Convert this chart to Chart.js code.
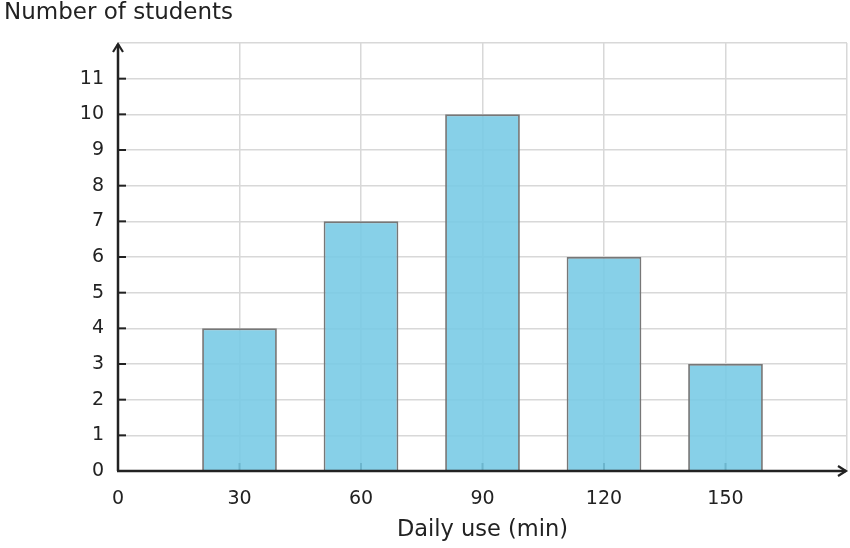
<!DOCTYPE html>
<html>
<head>
<meta charset="utf-8">
<script src="https://cdn.jsdelivr.net/npm/chart.js@4"></script>
<style>
  html, body { margin: 0; padding: 0; background: #fff; }
  #wrap { width: 850px; height: 548px; }
</style>
</head>
<body>
<div id="wrap"><canvas id="chart"></canvas></div>
<script>
const minutes = [30, 60, 90, 120, 150]
const students = [4, 7, 10, 6, 3]
const yTitle = "Number of students"
const xTitle = "Daily use (min)"

const ink = "#222222"
const font = "'DejaVu Sans', sans-serif"

// axis lines with arrow heads and inward tick marks, drawn under the bars
const axes = {
  id: "axes",
  beforeDatasetsDraw(chart) {
    const { ctx, chartArea: a, scales: { x, y } } = chart
    ctx.save()
    ctx.strokeStyle = ink
    ctx.lineWidth = 2
    x.ticks.forEach(t => {
      if (t.value === 0 || t.value === x.max) return
      const px = x.getPixelForValue(t.value)
      ctx.beginPath(); ctx.moveTo(px, a.bottom); ctx.lineTo(px, a.bottom - 8); ctx.stroke()
    })
    y.ticks.forEach(t => {
      if (t.value === 0 || t.value === y.max) return
      const py = y.getPixelForValue(t.value)
      ctx.beginPath(); ctx.moveTo(a.left, py); ctx.lineTo(a.left + 8, py); ctx.stroke()
    })
    ctx.restore()
  },
  afterDatasetsDraw(chart) {
    const { ctx, chartArea: a } = chart
    ctx.save()
    ctx.strokeStyle = ink
    ctx.lineWidth = 2.5
    ctx.beginPath()
    ctx.moveTo(a.left, a.bottom); ctx.lineTo(a.left, a.top + 1)
    ctx.moveTo(a.left - 1, a.bottom); ctx.lineTo(a.right - 1, a.bottom)
    ctx.stroke()
    ctx.lineWidth = 2.2
    ctx.beginPath()
    ctx.moveTo(a.left - 5, a.top + 9); ctx.lineTo(a.left, a.top + 1); ctx.lineTo(a.left + 5, a.top + 9)
    ctx.moveTo(a.right - 9, a.bottom - 5); ctx.lineTo(a.right - 1, a.bottom); ctx.lineTo(a.right - 9, a.bottom + 5)
    ctx.stroke()
    ctx.fillStyle = ink
    ctx.font = "23px " + font
    ctx.textBaseline = "middle"
    ctx.fillText(yTitle, 4, 13)
    ctx.restore()
  }
}

new Chart(document.getElementById("chart"), {
  type: "bar",
  data: {
    datasets: [{
      data: minutes.map((m, i) => ({ x: m, y: students[i] })),
      backgroundColor: "rgba(118, 201, 229, 0.88)",
      borderColor: "#777777",
      borderWidth: 1.8,
      categoryPercentage: 0.615,
      barPercentage: 1
    }]
  },
  options: {
    responsive: true,
    maintainAspectRatio: false,
    animation: false,
    layout: { padding: { top: 43, right: 3, left: 0, bottom: 0 } },
    plugins: { legend: { display: false }, tooltip: { enabled: false } },
    scales: {
      x: {
        type: "linear",
        offset: false,
        min: 0,
        max: 180,
        grid: { color: "#d8d8d8", lineWidth: 1.5, drawTicks: false, offset: false },
        border: { display: false },
        ticks: {
          stepSize: 30,
          padding: 17,
          color: ink,
          font: { family: font, size: 19 },
          maxRotation: 0,
          callback: v => v === 180 ? "" : v
        },
        title: {
          display: true,
          text: xTitle,
          color: ink,
          font: { family: font, size: 22.5 },
          padding: { top: 12 }
        },
        afterFit: s => { s.height = 77; s.paddingLeft = 0; s.paddingRight = 0 }
      },
      y: {
        min: 0,
        max: 12,
        grid: { color: "#d8d8d8", lineWidth: 1.5, drawTicks: false },
        border: { display: false },
        ticks: {
          stepSize: 1,
          padding: 14,
          color: ink,
          font: { family: font, size: 19 },
          callback: v => v === 12 ? "" : v
        },
        afterFit: s => { s.width = 118 }
      }
    }
  },
  plugins: [axes]
})
</script>
</body>
</html>
